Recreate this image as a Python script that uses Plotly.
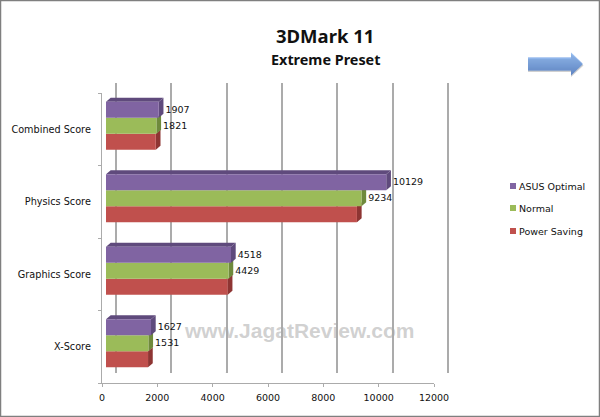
import plotly.graph_objects as go

# ---- data ----
categories = ["X-Score", "Graphics Score", "Physics Score", "Combined Score"]
asus_optimal = [1627, 4518, 10129, 1907]
normal = [1531, 4429, 9234, 1821]
power_saving = [1520, 4400, 9070, 1800]
tick_values = [0, 2000, 4000, 6000, 8000, 10000, 12000]
tick_labels = ["0", "2000", "4000", "6000", "8000", "10000", "12000"]
series_names = ["ASUS Optimal", "Normal", "Power Saving"]

# ---- styling / layout constants (pixels of the 600x417 page) ----
W, H = 600, 417
PURPLE, GREEN, RED = "#8064A2", "#9BBB59", "#C0504D"
PURPLE_D, GREEN_D, RED_D = "#5F4A7C", "#6F8A3C", "#8E3533"
GRID = "#ABABAB"
FONT = "DejaVu Sans"
TXT = "#111111"
X0, X1 = 102, 434      # front axis: value 0..12000
Y_TOP, Y_BOT = 93, 383 # front axis vertical extent
BACK_DX, BACK_DY = 14, 10
BAR_DX, BAR_DY = 4, 3.4
DEPTH_PX_X, DEPTH_PX_Y = 4.7, 4.0
PX_PER_UNIT = (X1 - X0) / 12000
BAND_H = (Y_BOT - Y_TOP) / 4
BAR_H = 16
GRID_PAD = 100  # wall axis runs slightly past 0 and 12000 so both edge gridlines are drawn

def dx(px_):
    return px_ / PX_PER_UNIT

def dy(px_):
    return px_ / BAND_H

def xdom(a, b):
    return [a / W, b / W]

def ydom(top, bot):
    return [1 - bot / H, 1 - top / H]

fig = go.Figure()
idx = list(range(len(categories)))
groups = [
    (power_saving, -1, RED, RED_D, series_names[2]),
    (normal, 0, GREEN, GREEN_D, series_names[1]),
    (asus_optimal, 1, PURPLE, PURPLE_D, series_names[0]),
]

# back wall floor/top connectors, drawn on the grid subplot
xs, ys = [], []
for t in tick_values:
    xs += [t - dx(BACK_DX), t, None]
    ys += [-dy(BACK_DY), 0, None]
xs += [0 - dx(BACK_DX) - dx(1), 0, None]
ys += [4 + dy(BACK_DY), 4, None]
fig.add_trace(go.Scatter(x=xs, y=ys, mode="lines", line=dict(color=GRID, width=1.4),
                         cliponaxis=False, showlegend=False, hoverinfo="skip",
                         xaxis="x", yaxis="y"))

# 3-D side and top faces (below the fronts)
for values, slot, front, dark, name in groups:
    for i, v in zip(idx, values):
        c = i + slot * BAR_H / BAND_H
        h = BAR_H / BAND_H / 2
        ddx, ddy = dx(DEPTH_PX_X), dy(DEPTH_PX_Y)
        fig.add_trace(go.Scatter(
            x=[v, v + ddx, v + ddx, v, v],
            y=[c - h, c - h + ddy, c + h + ddy, c + h, c - h],
            mode="lines", fill="toself", fillcolor=dark, line=dict(width=0, color=dark),
            cliponaxis=False, showlegend=False, hoverinfo="skip", xaxis="x2", yaxis="y2"))
        if slot == 1:
            fig.add_trace(go.Scatter(
                x=[0, ddx, v + ddx, v, 0],
                y=[c + h, c + h + ddy, c + h + ddy, c + h, c + h],
                mode="lines", fill="toself", fillcolor=dark, line=dict(width=0, color=dark),
                cliponaxis=False, showlegend=False, hoverinfo="skip", xaxis="x2", yaxis="y2"))

# front faces
for values, slot, front, dark, name in groups:
    fig.add_trace(go.Bar(
        y=[i + slot * BAR_H / BAND_H for i in idx], x=values, orientation="h",
        width=BAR_H / BAND_H, marker=dict(color=front, line=dict(width=0)),
        name=name, showlegend=False, xaxis="x3", yaxis="y3"))

# value labels (only the two upper series are labelled in the chart)
for values, slot in ((asus_optimal, 1), (normal, 0)):
    fig.add_trace(go.Scatter(
        x=[v + dx(DEPTH_PX_X + 2) for v in values],
        y=[i + slot * BAR_H / BAND_H - dy(0.7) for i in idx],
        text=[str(v) for v in values], mode="text", textposition="middle right",
        textfont=dict(family=FONT, size=9.5, color=TXT), cliponaxis=False,
        showlegend=False, hoverinfo="skip", xaxis="x3", yaxis="y3"))

# front axes trace (categories and value ticks)
fig.add_trace(go.Scatter(x=[0] * 4, y=categories, mode="markers", marker=dict(opacity=0),
                         showlegend=False, hoverinfo="skip", xaxis="x4", yaxis="y4"))

off = dict(visible=False, fixedrange=True, automargin=False)
pad_px = GRID_PAD * PX_PER_UNIT
fig.update_layout(
    width=W, height=H, autosize=False, margin=dict(l=0, r=0, t=0, b=0),
    paper_bgcolor="white", plot_bgcolor="rgba(0,0,0,0)", showlegend=False,
    barmode="overlay",
    # grid wall
    xaxis=dict(domain=xdom(X0 + BACK_DX - pad_px, X1 + BACK_DX + pad_px),
               range=[-GRID_PAD, 12000 + GRID_PAD], tickvals=tick_values,
               showgrid=True, gridcolor=GRID, gridwidth=1.6, zeroline=False, automargin=False,
               showticklabels=False, ticks="", showline=False, anchor="y"),
    yaxis=dict(domain=ydom(Y_TOP - BACK_DY, Y_BOT - BACK_DY), range=[0, 4], showgrid=False,
               zeroline=False, showticklabels=False, ticks="", anchor="x", automargin=False),
    # bar sides
    xaxis2=dict(domain=xdom(X0 + BAR_DX, X1 + BAR_DX), range=[0, 12000], anchor="y2", **off),
    yaxis2=dict(domain=ydom(Y_TOP - BAR_DY, Y_BOT - BAR_DY), range=[-0.5, 3.5], anchor="x2", **off),
    # bar fronts
    xaxis3=dict(domain=xdom(X0 + BAR_DX, X1 + BAR_DX), range=[0, 12000], anchor="y3", **off),
    yaxis3=dict(domain=ydom(Y_TOP - BAR_DY, Y_BOT - BAR_DY), range=[-0.5, 3.5], anchor="x3", **off),
    # front axes
    xaxis4=dict(domain=xdom(X0, X1), range=[0, 12000], tickvals=tick_values, ticktext=tick_labels,
                anchor="y4", showgrid=False, zeroline=False, showline=True, linecolor=GRID, linewidth=1.4,
                ticks="outside", ticklen=3, tickcolor=GRID, tickwidth=1.2, automargin=False,
                ticklabelstandoff=2, tickfont=dict(family=FONT, size=9.5, color=TXT)),
    yaxis4=dict(domain=ydom(Y_TOP, Y_BOT), type="category", categoryorder="array",
                categoryarray=categories, range=[-0.5, 3.5], anchor="x4", tickson="boundaries",
                automargin=False, showgrid=False, zeroline=False, showline=True, linecolor=GRID,
                linewidth=1.4, ticks="outside", ticklen=3, tickcolor=GRID, tickwidth=1.2,
                ticklabelstandoff=8, tickfont=dict(family=FONT, size=9.7, color=TXT)),
)

def paper_x(p):
    return p / W

def paper_y(p):
    return 1 - p / H

ann = [
    dict(text="3DMark 11", x=paper_x(325), y=paper_y(35), font=dict(family="Noto Sans", size=18.5, color="#111111", weight="bold")),
    dict(text="Extreme Preset", x=paper_x(325), y=paper_y(59), font=dict(family="Noto Sans", size=14.4, color="#111111", weight="bold")),
    dict(text="www.JagatReview.com", x=paper_x(299), y=paper_y(330),
         font=dict(family="Liberation Sans", size=21, color="rgba(170,170,170,0.55)", weight="bold")),
]
shapes = []
for name, color, yy in zip(series_names, (PURPLE, GREEN, RED), (186, 208, 231)):
    ann.append(dict(text=name, x=paper_x(517), y=paper_y(yy), xanchor="left",
                    font=dict(family=FONT, size=9.5, color=TXT)))
    shapes.append(dict(type="rect", xref="paper", yref="paper", x0=paper_x(510), x1=paper_x(516),
                       y0=paper_y(yy + 3), y1=paper_y(yy - 3), fillcolor=color, line=dict(width=0)))
for a in ann:
    a.update(xref="paper", yref="paper", showarrow=False, yanchor="middle")
    a.setdefault("xanchor", "center")

# decorative blue arrow, built from horizontal bands for the vertical gradient
def lerp(a, b, t):
    return a + (b - a) * t

TOP_C, BOT_C = (125, 175, 242), (58, 108, 190)
ax0, ax1, ah = 528, 583, 571
acy = 64
shaft, head = 6.5, 11.5
n = 23
shapes.append(dict(type="path", xref="paper", yref="paper", line=dict(width=0), fillcolor="rgba(120,120,120,0.35)",
                   path="M{},{}L{},{}L{},{}L{},{}L{},{}L{},{}L{},{}Z".format(
                       paper_x(ax0), paper_y(acy - shaft + 1.5), paper_x(ah), paper_y(acy - shaft + 1.5),
                       paper_x(ah), paper_y(acy - head + 1.5), paper_x(ax1 + .5), paper_y(acy + 1.5),
                       paper_x(ah), paper_y(acy + head + 1.5), paper_x(ah), paper_y(acy + shaft + 1.5),
                       paper_x(ax0), paper_y(acy + shaft + 1.5))))
for k in range(n):
    t0 = -head + 2 * head * k / n
    t1 = -head + 2 * head * (k + 1) / n
    def right(t):
        return ah + (ax1 - ah) * (1 - abs(t) / head)
    tm = (t0 + t1) / 2
    col = tuple(int(lerp(a, b, (tm + head) / (2 * head))) for a, b in zip(TOP_C, BOT_C))
    left0 = ax0 if abs(tm) <= shaft else ah
    shapes.append(dict(type="path", xref="paper", yref="paper", line=dict(width=0),
                       fillcolor="rgb({},{},{})".format(*col),
                       path="M{},{}L{},{}L{},{}L{},{}Z".format(
                           paper_x(left0), paper_y(acy + t0), paper_x(right(t0)), paper_y(acy + t0),
                           paper_x(right(t1)), paper_y(acy + t1), paper_x(left0), paper_y(acy + t1))))

# picture frame
shapes.append(dict(type="rect", xref="paper", yref="paper", x0=0, x1=1, y0=0, y1=1,
                   line=dict(color="#7F7F7F", width=2.5), fillcolor="rgba(0,0,0,0)"))
fig.update_layout(annotations=ann, shapes=shapes)
fig.write_html("out.html", config=dict(displayModeBar=False, responsive=False),
               post_script=("document.documentElement.style.overflow='hidden';"
                            "document.body.style.margin='0';document.body.style.overflow='hidden';"))
